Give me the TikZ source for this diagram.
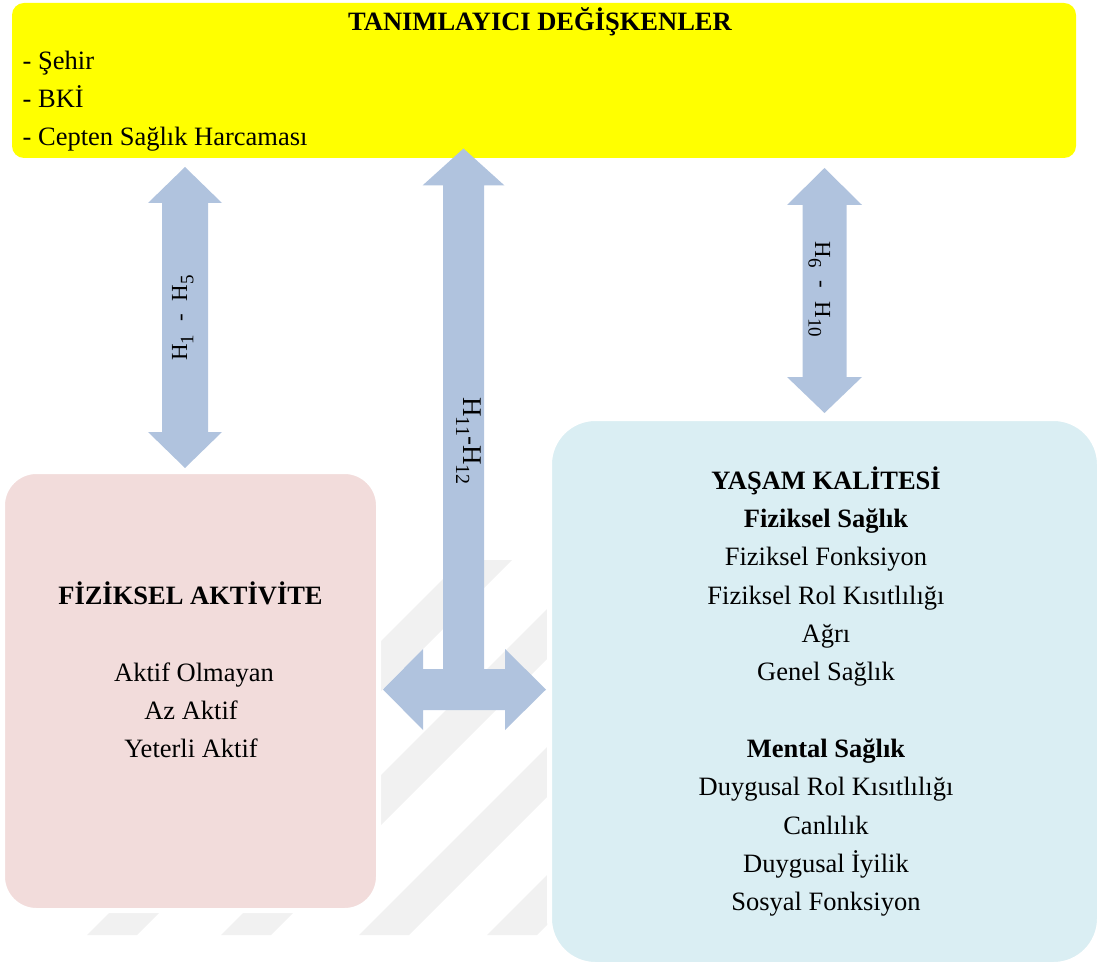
\documentclass[tikz,border=0pt]{standalone}
\usepackage{fontspec}
\setmainfont{Liberation Serif}
\usetikzlibrary{calc}
\definecolor{ylw}{HTML}{FFFF00}
\definecolor{pnk}{HTML}{F2DCDB}
\definecolor{aqu}{HTML}{DAEEF3}
\definecolor{arrc}{HTML}{B0C3DE}
\definecolor{wmk}{HTML}{F1F1F1}
\newcommand\hsb[2]{\raisebox{-0.28em}{\fontsize{#1}{#1}\selectfont #2}}
\begin{document}
\begin{tikzpicture}[x=1pt, y=-1pt,
  box/.style={draw=white, line width=5pt, inner sep=0pt, outer sep=0pt},
  ybox/.style={fill=ylw, rounded corners=12pt, minimum width=1064pt, minimum height=155pt, inner sep=0pt},
  pbox/.style={box, fill=pnk, rounded corners=34pt, minimum width=376pt, minimum height=439pt},
  bbox/.style={box, fill=aqu, rounded corners=46pt, minimum width=550pt, minimum height=546pt},
  txt/.style={inner sep=0pt, anchor=base, font=\fontsize{26.5}{32}\selectfont},
  btxt/.style={txt, font=\fontsize{26.5}{32}\selectfont\bfseries},
  ltxt/.style={txt, anchor=base west},
  arr/.style={fill=arrc},
  hlab/.style={inner sep=0pt, anchor=base, font=\fontsize{23}{27}\selectfont},
  wm/.style={fill=wmk}]
\useasboundingbox (0,0) rectangle (1099,965);

% faint watermark stripes
\foreach \x in {87,221,359,487}
  \fill[wm] (\x,935) -- ++(50,0) -- ++(375,-375) -- ++(-50,0) -- cycle;

% boxes
\node[ybox] (tan) at (544,80.5) {};
\node[pbox] (fa) at (190.5,691) {};
\node[bbox] (yk) at (824.5,691.5) {};

% arrow H1-H5
\coordinate (a1t) at (185,167);
\coordinate (a1b) at (185,468);
\fill[arr] (a1t) -- ++(37,36) -- ++(-14,0) -- ($(a1b)+(23,-36)$) -- ++(14,0) -- (a1b)
  -- ++(-37,-36) -- ++(14,0) -- ($(a1t)+(-23,36)$) -- ++(-14,0) -- cycle;

% arrow H6-H10
\coordinate (a3t) at (824.5,168);
\coordinate (a3b) at (824.5,413);
\fill[arr] (a3t) -- ++(37.5,37) -- ++(-15.5,0) -- ($(a3b)+(22,-36)$) -- ++(15.5,0) -- (a3b)
  -- ++(-37.5,-36) -- ++(15.5,0) -- ($(a3t)+(-22,37)$) -- ++(-15.5,0) -- cycle;

% T arrow H11-H12
\coordinate (a2t) at (463.5,148.5);
\coordinate (a2l) at (383,689.5);
\coordinate (a2r) at (546,689.5);
\fill[arr] (a2t) -- ++(41,37) -- ++(-20.5,0) -- ($(a2t)+(20.5,520.5)$)
  -- ($(a2r)+(-41,-20.5)$) -- ++(0,-20) -- (a2r) -- ++(-41,40.5) -- ++(0,-20)
  -- ($(a2l)+(40,20.5)$) -- ++(0,20) -- (a2l) -- ++(40,-40.5) -- ++(0,20)
  -- ($(a2t)+(-20.5,520.5)$) -- ($(a2t)+(-20.5,37)$) -- ++(-20.5,0) -- cycle;

% arrow labels
\node[hlab, rotate=90] (l1) at (187,318) {H\hsb{19}{1}\hspace{13pt}-\hspace{13pt}H\hsb{19}{5}};
\node[hlab, rotate=-90] (l3) at (815,289.5) {H\hsb{19}{6}\hspace{13pt}-\hspace{13pt}H\hsb{19}{10}};
\node[hlab, rotate=-90, font=\fontsize{27}{30}\selectfont] (l2) at (463.6,441) {H\hsb{20}{11}-H\hsb{20}{12}};

% yellow box text
\node[btxt] (tant) at (540,31) {TANIMLAYICI DEĞİŞKENLER};
\node[ltxt] (t1) at (22.5,69.3) {- Şehir};
\node[ltxt] (t2) at (22.5,107.6) {- BKİ};
\node[ltxt] (t3) at (22.5,146) {- Cepten Sağlık Harcaması};

% pink box text
\node[btxt] (fat) at (190.5,604.3) {FİZİKSEL AKTİVİTE};
\node[txt] (f1) at (194,681) {Aktif Olmayan};
\node[txt] (f2) at (191,719.3) {Az Aktif};
\node[txt] (f3) at (191,757.6) {Yeterli Aktif};

% blue box text
\node[btxt] (ykt) at (826,489.3) {YAŞAM KALİTESİ};
\node[btxt] (fs) at (826,527.6) {Fiziksel Sağlık};
\node[txt] (q1) at (826,565.9) {Fiziksel Fonksiyon};
\node[txt] (q2) at (826,604.2) {Fiziksel Rol Kısıtlılığı};
\node[txt] (q3) at (826,642.5) {Ağrı};
\node[txt] (q4) at (826,680.8) {Genel Sağlık};
\node[btxt] (ms) at (826,757.4) {Mental Sağlık};
\node[txt] (q5) at (826,795.7) {Duygusal Rol Kısıtlılığı};
\node[txt] (q6) at (826,834) {Canlılık};
\node[txt] (q7) at (826,872.3) {Duygusal İyilik};
\node[txt] (q8) at (826,910.6) {Sosyal Fonksiyon};
\end{tikzpicture}
\end{document}
